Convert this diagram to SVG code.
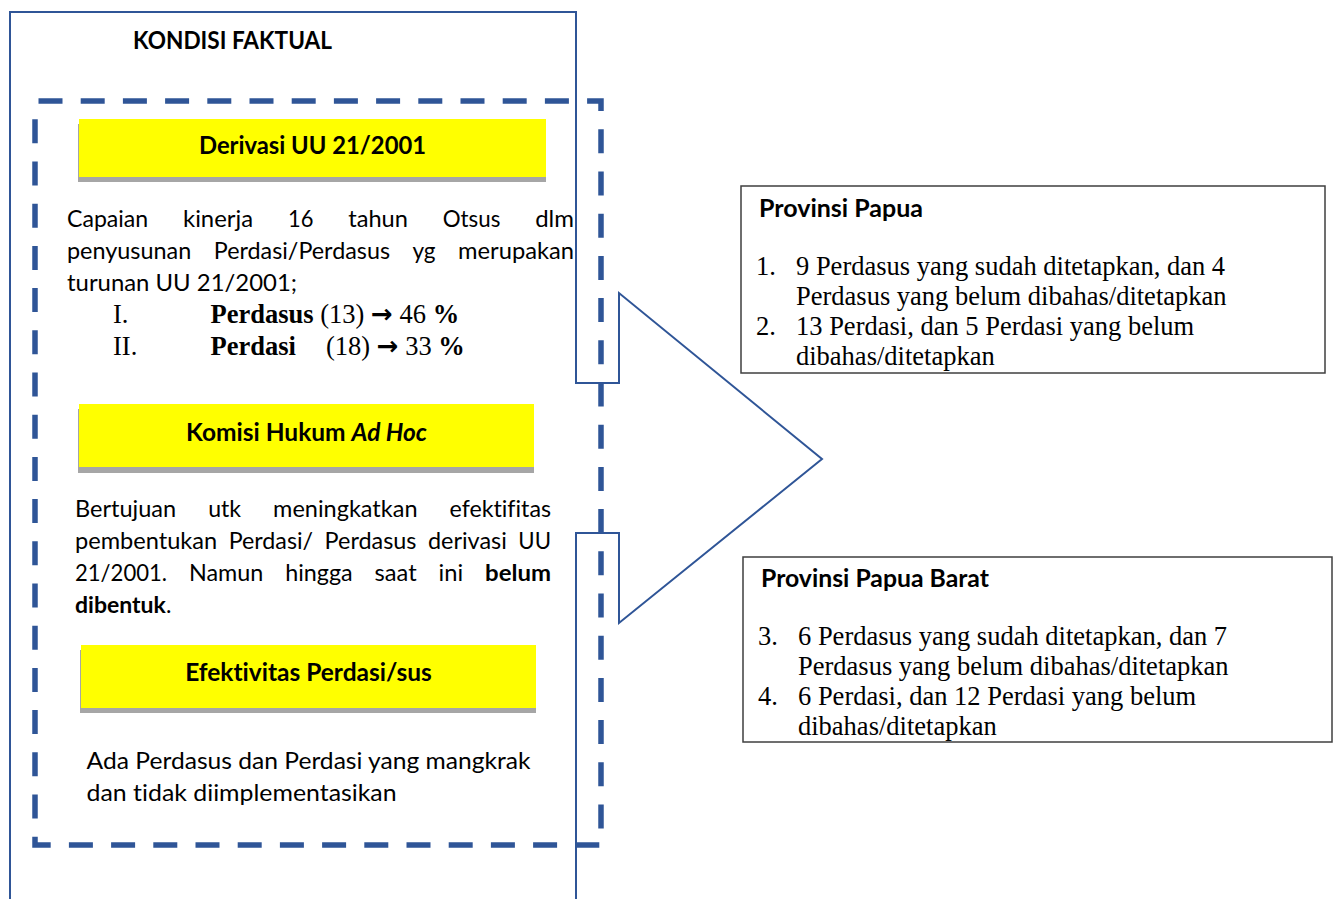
<svg xmlns="http://www.w3.org/2000/svg" width="1335" height="899" viewBox="0 0 1335 899">
<style>
text{font-variant-ligatures:none;font-feature-settings:"liga" 0,"dlig" 0}
.hdr{font-family:Lato,"Liberation Sans",sans-serif;font-weight:700;font-size:24.5px;fill:#000}
.body{font-family:Lato,"Liberation Sans",sans-serif;font-size:23px;fill:#000}
.b{font-weight:700}
.serif{font-family:"Liberation Serif","Times New Roman",serif;font-size:26.5px;fill:#000}
.arr{font-family:"DejaVu Sans",sans-serif;font-weight:700;font-size:26px}
.yel{fill:#FFFF00}
.shd{fill:#A6A6A6}
.box{fill:#fff;stroke:#3F3F3F;stroke-width:1.5}
</style>
<rect width="1335" height="899" fill="#fff"/>

<g id="callout-frame">
<path d="M10,905 V12 H576 V383 H619 V293 L822,459 L619,623 V533 H576 V905" fill="none" stroke="#2F5597" stroke-width="2"/>
</g>

<g id="dashed-frame">
<path d="M38.5,101 H601 V845 H35 V101" fill="none" stroke="#2F5597" stroke-width="5.5" stroke-dasharray="24 18.2"/>
</g>

<g id="title">
<text class="hdr" x="133" y="49" textLength="199" lengthAdjust="spacingAndGlyphs">KONDISI FAKTUAL</text>
</g>

<g id="node-derivasi">
<rect class="shd" x="78" y="124" width="468" height="58"/>
<rect class="yel" x="79" y="119" width="467" height="58"/>
<text class="hdr" x="199" y="154" textLength="227" lengthAdjust="spacingAndGlyphs">Derivasi UU 21/2001</text>
<g class="body">
<text x="67" y="227" textLength="81.2" lengthAdjust="spacingAndGlyphs">Capaian</text>
<text x="183" y="227" textLength="70.1" lengthAdjust="spacingAndGlyphs">kinerja</text>
<text x="288" y="227" textLength="25.4" lengthAdjust="spacingAndGlyphs">16</text>
<text x="348.2" y="227" textLength="59.7" lengthAdjust="spacingAndGlyphs">tahun</text>
<text x="442.8" y="227" textLength="57.6" lengthAdjust="spacingAndGlyphs">Otsus</text>
<text x="535.2" y="227" textLength="38.8" lengthAdjust="spacingAndGlyphs">dlm</text>
<text x="67" y="259" textLength="124.3" lengthAdjust="spacingAndGlyphs">penyusunan</text>
<text x="213.8" y="259" textLength="176.2" lengthAdjust="spacingAndGlyphs">Perdasi/Perdasus</text>
<text x="412.5" y="259" textLength="23.1" lengthAdjust="spacingAndGlyphs">yg</text>
<text x="458.1" y="259" textLength="115.9" lengthAdjust="spacingAndGlyphs">merupakan</text>
<text x="67" y="291" textLength="230" lengthAdjust="spacingAndGlyphs">turunan UU 21/2001;</text>
</g>
<text class="serif" y="323"><tspan x="113">I.</tspan><tspan x="210.6" font-weight="700">Perdasus</tspan> (13) <tspan class="arr">→</tspan> 46 <tspan font-weight="700">%</tspan></text>
<text class="serif" y="355"><tspan x="113">II.</tspan><tspan x="210.6" font-weight="700">Perdasi</tspan><tspan x="326">(18)</tspan> <tspan class="arr">→</tspan> 33 <tspan font-weight="700">%</tspan></text>
</g>

<g id="node-komisi">
<rect class="shd" x="78" y="409" width="456" height="64"/>
<rect class="yel" x="79" y="404" width="455" height="63"/>
<text class="hdr" x="306.5" y="441" text-anchor="middle">Komisi Hukum <tspan font-style="italic">Ad Hoc</tspan></text>
<g class="body">
<text x="75" y="517" textLength="101.2" lengthAdjust="spacingAndGlyphs">Bertujuan</text>
<text x="208.2" y="517" textLength="32.9" lengthAdjust="spacingAndGlyphs">utk</text>
<text x="273.1" y="517" textLength="144.4" lengthAdjust="spacingAndGlyphs">meningkatkan</text>
<text x="449.5" y="517" textLength="101.5" lengthAdjust="spacingAndGlyphs">efektifitas</text>
<text x="75" y="549" textLength="142.2" lengthAdjust="spacingAndGlyphs">pembentukan</text>
<text x="228.7" y="549" textLength="84.4" lengthAdjust="spacingAndGlyphs">Perdasi/</text>
<text x="324.6" y="549" textLength="91.9" lengthAdjust="spacingAndGlyphs">Perdasus</text>
<text x="428" y="549" textLength="78.8" lengthAdjust="spacingAndGlyphs">derivasi</text>
<text x="518.3" y="549" textLength="32.7" lengthAdjust="spacingAndGlyphs">UU</text>
<text x="75" y="581" textLength="92" lengthAdjust="spacingAndGlyphs">21/2001.</text>
<text x="188.9" y="581" textLength="74.4" lengthAdjust="spacingAndGlyphs">Namun</text>
<text x="285.2" y="581" textLength="67.5" lengthAdjust="spacingAndGlyphs">hingga</text>
<text x="374.6" y="581" textLength="42.1" lengthAdjust="spacingAndGlyphs">saat</text>
<text x="438.6" y="581" textLength="24.6" lengthAdjust="spacingAndGlyphs">ini</text>
<text class="b" x="485.1" y="581" textLength="65.9" lengthAdjust="spacingAndGlyphs">belum</text>
<text x="75" y="613"><tspan class="b">dibentuk</tspan>.</text>
</g>
</g>

<g id="node-efektivitas">
<rect class="shd" x="80" y="650" width="456" height="63"/>
<rect class="yel" x="81" y="645" width="455" height="63"/>
<text class="hdr" x="308.5" y="681" text-anchor="middle">Efektivitas Perdasi/sus</text>
<text class="body" x="86.6" y="769" textLength="444" lengthAdjust="spacingAndGlyphs" style="font-size:23.5px">Ada Perdasus dan Perdasi yang mangkrak</text>
<text class="body" x="86.6" y="801" textLength="310" lengthAdjust="spacingAndGlyphs" style="font-size:23.5px">dan tidak diimplementasikan</text>
</g>

<g id="node-papua">
<rect class="box" x="741" y="186" width="584" height="187"/>
<text class="hdr" x="759" y="217" textLength="164" lengthAdjust="spacingAndGlyphs">Provinsi Papua</text>
<text class="serif" x="756" y="275">1.</text>
<text class="serif" x="796" y="275">9 Perdasus yang sudah ditetapkan, dan 4</text>
<text class="serif" x="796" y="305">Perdasus yang belum dibahas/ditetapkan</text>
<text class="serif" x="756" y="335">2.</text>
<text class="serif" x="796" y="335">13 Perdasi, dan 5 Perdasi yang belum</text>
<text class="serif" x="796" y="365">dibahas/ditetapkan</text>
</g>

<g id="node-papua-barat">
<rect class="box" x="743" y="557" width="589" height="185"/>
<text class="hdr" x="761" y="587" textLength="228" lengthAdjust="spacingAndGlyphs">Provinsi Papua Barat</text>
<text class="serif" x="758" y="645">3.</text>
<text class="serif" x="798" y="645">6 Perdasus yang sudah ditetapkan, dan 7</text>
<text class="serif" x="798" y="675">Perdasus yang belum dibahas/ditetapkan</text>
<text class="serif" x="758" y="705">4.</text>
<text class="serif" x="798" y="705">6 Perdasi, dan 12 Perdasi yang belum</text>
<text class="serif" x="798" y="735">dibahas/ditetapkan</text>
</g>
</svg>
